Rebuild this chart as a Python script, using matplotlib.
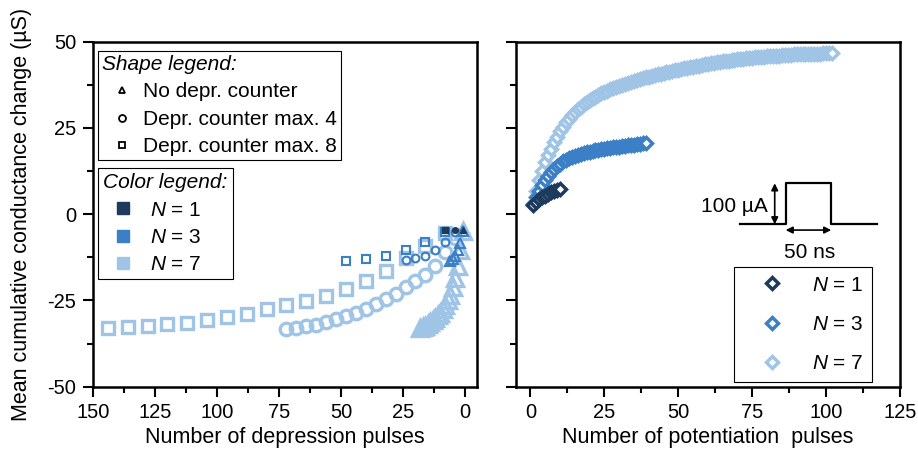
import numpy as np
import matplotlib
matplotlib.use("Agg")
import matplotlib.pyplot as plt
from matplotlib.lines import Line2D
from matplotlib.ticker import MultipleLocator

plt.rcParams['font.family'] = ['Liberation Sans', 'DejaVu Sans']
plt.rcParams['mathtext.fontset'] = 'custom'
plt.rcParams['mathtext.it'] = 'Liberation Sans:italic'
plt.rcParams['mathtext.rm'] = 'Liberation Sans'
plt.rcParams['axes.unicode_minus'] = False

# colores por N
col_n1 = '#1e3a5c'
col_n3 = '#3b7fc6'
col_n7 = '#9fc4e6'

# ---- depresion: (pulsos, cambio medio) ----
# N = 1
dep_tri_n1_x = [1]
dep_tri_n1_y = [-4.7]
dep_cir_n1_x = [4]
dep_cir_n1_y = [-4.7]
dep_sq_n1_x = [8]
dep_sq_n1_y = [-4.7]
# N = 3
dep_tri_n3_x = [1, 2, 3, 4, 5, 6]
dep_tri_n3_y = [-5.0, -8.3, -10.5, -12.0, -13.0, -13.6]
dep_cir_n3_x = [4, 8, 12, 16, 20, 24]
dep_cir_n3_y = [-5.1, -8.1, -10.4, -12.1, -12.8, -13.3]
dep_sq_n3_x = [8, 16, 24, 32, 40, 48]
dep_sq_n3_y = [-5.2, -8.1, -10.4, -12.2, -13.0, -13.6]
# N = 7
dep_tri_n7_x = [1, 2, 3, 4, 5, 6, 7, 8, 9, 10, 11, 12, 13, 14, 15, 16, 17, 18]
dep_tri_n7_y = [-4.8, -10.5, -15.0, -18.5, -21.2, -23.3, -25.0, -26.4, -27.5,
                -28.5, -29.3, -30.0, -30.7, -31.3, -31.8, -32.3, -32.7, -33.1]
dep_cir_n7_x = [4, 8, 12, 16, 20, 24, 28, 32, 36, 40, 44, 48, 52, 56, 60, 64, 68, 72]
dep_cir_n7_y = [-7.0, -11.0, -15.0, -17.5, -19.5, -21.1, -23.0, -24.6, -26.1,
                -27.4, -28.6, -29.6, -30.5, -31.3, -32.0, -32.5, -32.9, -33.4]
dep_sq_n7_x = [8, 16, 24, 32, 40, 48, 56, 64, 72, 80, 88, 96, 104, 112, 120, 128, 136, 144]
dep_sq_n7_y = [-5.5, -9.2, -12.8, -16.4, -19.3, -21.8, -23.7, -25.1, -26.4,
               -27.6, -28.8, -29.8, -30.7, -31.4, -31.9, -32.4, -32.7, -33.1]

# ---- potenciacion: cambio medio por pulso ----
pot_n1 = [2.8, 3.6, 4.3, 4.9, 5.4, 5.9, 6.3, 6.7, 7.0, 7.3]
pot_n3 = [3.0, 5.0, 6.8, 8.4, 9.9, 11.2, 12.3, 13.2, 14.0, 14.7,
          15.3, 15.8, 16.2, 16.6, 16.9, 17.2, 17.5, 17.7, 17.9, 18.1,
          18.3, 18.5, 18.7, 18.8, 19.0, 19.1, 19.3, 19.4, 19.5, 19.6,
          19.8, 19.9, 20.0, 20.1, 20.2, 20.3, 20.4, 20.5, 20.6]
pot_n7 = [3.0, 6.8, 10.0, 12.6, 15.0, 17.1, 19.0, 20.8, 22.5, 24.0,
          25.4, 26.6, 27.7, 28.7, 29.6, 30.4, 31.2, 31.9, 32.5, 33.1,
          33.6, 34.1, 34.6, 35.0, 35.4, 35.8, 36.2, 36.6, 36.9, 37.2,
          37.5, 37.8, 38.1, 38.4, 38.7, 38.9, 39.2, 39.4, 39.7, 39.9,
          40.1, 40.3, 40.5, 40.7, 40.9, 41.1, 41.3, 41.5, 41.7, 41.9,
          42.1, 42.3, 42.5, 42.6, 42.8, 43.0, 43.1, 43.3, 43.4, 43.6,
          43.7, 43.9, 44.0, 44.1, 44.3, 44.4, 44.5, 44.6, 44.7, 44.9,
          45.0, 45.1, 45.2, 45.3, 45.4, 45.5, 45.5, 45.6, 45.7, 45.8,
          45.8, 45.9, 46.0, 46.0, 46.1, 46.1, 46.2, 46.2, 46.3, 46.3,
          46.3, 46.4, 46.4, 46.4, 46.5, 46.5, 46.5, 46.5, 46.6, 46.6,
          46.6, 46.6]

# pulso del esquema (ns, uA)
pulse_t = [-50, 0, 0, 50, 50, 100]
pulse_i = [0, 0, 100, 100, 0, 0]

fig = plt.figure(figsize=(9.18, 4.53), dpi=100)
ax1 = fig.add_axes([0.1013, 0.1463, 0.4188, 0.7616])
ax2 = fig.add_axes([0.5617, 0.1463, 0.4188, 0.7616])

for ax in (ax1, ax2):
    ax.set_ylim(-50, 50)
    ax.yaxis.set_major_locator(MultipleLocator(25))
    ax.yaxis.set_minor_locator(MultipleLocator(12.5))
    ax.xaxis.set_major_locator(MultipleLocator(25))
    ax.xaxis.set_minor_locator(MultipleLocator(12.5))
    ax.tick_params(which='major', direction='out', length=7, width=1.5,
                   labelsize=14.5, pad=5)
    ax.tick_params(which='minor', direction='out', length=4.5, width=1.5)
    for sp in ax.spines.values():
        sp.set_linewidth(1.8)

ax1.set_xlim(150, -5)
ax2.set_xlim(-5, 125)
ax2.tick_params(axis='y', labelleft=False)

# grafico izquierdo: depresion
series = [
    (col_n7, 8.2, 2.4, 9.0, 11.0),
    (col_n3, 5.2, 1.5, 5.6, 6.8),
    (col_n1, 3.8, 1.0, 4.0, 4.8),
]
dep_data = [
    (dep_sq_n7_x, dep_sq_n7_y, dep_cir_n7_x, dep_cir_n7_y, dep_tri_n7_x, dep_tri_n7_y),
    (dep_sq_n3_x, dep_sq_n3_y, dep_cir_n3_x, dep_cir_n3_y, dep_tri_n3_x, dep_tri_n3_y),
    (dep_sq_n1_x, dep_sq_n1_y, dep_cir_n1_x, dep_cir_n1_y, dep_tri_n1_x, dep_tri_n1_y),
]
for (col, ms_s, mew, ms_c, ms_t), (sx, sy, cx, cy, tx, ty) in zip(series, dep_data):
    face = col if col == col_n1 else 'none'
    ax1.plot(sx, sy, ls='none', marker='s', ms=ms_s, mfc=face, mec=col, mew=mew, clip_on=False)
    ax1.plot(cx, cy, ls='none', marker='o', ms=ms_c, mfc=face, mec=col, mew=mew, clip_on=False)
    ax1.plot(tx, ty, ls='none', marker='^', ms=ms_t, mfc=face, mec=col, mew=mew, clip_on=False)

ax1.set_xlabel("Number of depression pulses", fontsize=15.5, labelpad=3)
ax1.set_ylabel("Mean cumulative conductance change (µS)", fontsize=15.5, labelpad=11)

shape_handles = [Line2D([], [], ls='none', marker=m, ms=5, mfc='white', mec='black', mew=1.3)
                 for m in ['^', 'o', 's']]
shape_labels = ['No depr. counter', 'Depr. counter max. 4', 'Depr. counter max. 8']
leg1 = ax1.legend(shape_handles, shape_labels, title='Shape legend:', loc='upper left',
                  bbox_to_anchor=(0.013, 0.972), borderaxespad=0, fontsize=15,
                  title_fontproperties={'style': 'italic', 'size': 15}, alignment='left',
                  fancybox=False, edgecolor='black', framealpha=1, handlelength=1.9,
                  handletextpad=0.1, labelspacing=0.4, borderpad=0.18)
leg1.get_frame().set_linewidth(0.8)
ax1.add_artist(leg1)

color_handles = [Line2D([], [], ls='none', marker='s', ms=9, mfc=c, mec=c)
                 for c in [col_n1, col_n3, col_n7]]
color_labels = ['$N$ = 1', '$N$ = 3', '$N$ = 7']
leg2 = ax1.legend(color_handles, color_labels, title='Color legend:', loc='upper left',
                  bbox_to_anchor=(0.013, 0.634), borderaxespad=0, fontsize=15,
                  title_fontproperties={'style': 'italic', 'size': 15}, alignment='left',
                  fancybox=False, edgecolor='black', framealpha=1, handlelength=1.9,
                  handletextpad=0.35, labelspacing=0.4, borderpad=0.25)
leg2.get_frame().set_linewidth(0.8)

# grafico derecho: potenciacion
pot_handles = []
for col, ys in [(col_n7, pot_n7), (col_n3, pot_n3), (col_n1, pot_n1)]:
    x = np.arange(1, len(ys) + 1)
    h, = ax2.plot(x, ys, ls='none', marker='D', ms=6.2, mfc='white', mec=col, mew=2.5)
    pot_handles.append(h)
pot_handles = pot_handles[::-1]
ax2.set_xlabel("Number of potentiation  pulses", fontsize=15.5, labelpad=3)
leg3 = ax2.legend(pot_handles, color_labels, loc='lower left', bbox_to_anchor=(0.568, 0.013),
                  borderaxespad=0, fontsize=15, fancybox=False, edgecolor='black',
                  framealpha=1, handlelength=2.8, handletextpad=0.5, labelspacing=0.98,
                  borderpad=0.42)
leg3.get_frame().set_linewidth(0.8)

# esquema del pulso
ins = ax2.inset_axes([0.5838, 0.4707, 0.3556, 0.1189])
ins.set_xlim(-50, 100)
ins.set_ylim(0, 100)
ins.axis('off')
ins.plot(pulse_t, pulse_i, color='black', lw=1.6, clip_on=False)
ins.annotate('', xy=(-12, 100), xytext=(-12, 0),
             arrowprops=dict(arrowstyle='<|-|>', color='black', lw=1.2,
                             mutation_scale=10, shrinkA=0, shrinkB=0))
ins.annotate('', xy=(50, -14), xytext=(0, -14), annotation_clip=False,
             arrowprops=dict(arrowstyle='<|-|>', color='black', lw=1.2,
                             mutation_scale=10, shrinkA=0, shrinkB=0))
ins.text(-20, 43, '100 µA', ha='right', va='center', fontsize=15)
ins.text(26, -68, '50 ns', ha='center', va='center', fontsize=15)

plt.savefig("out.png", dpi=100)
